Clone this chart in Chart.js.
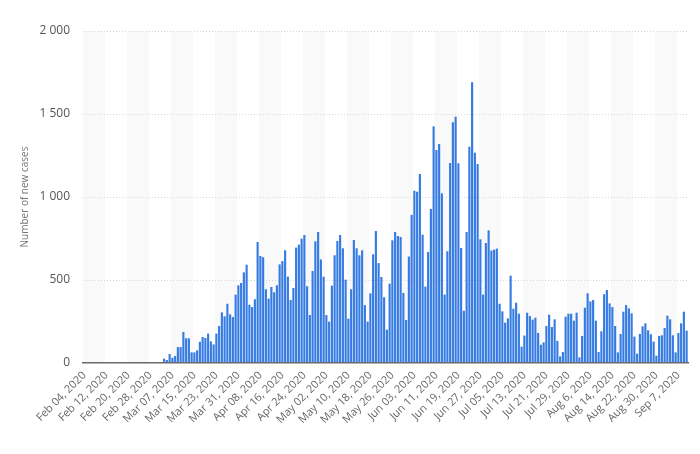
<!DOCTYPE html>
<html>
<head>
<meta charset="utf-8">
<script src="https://cdn.jsdelivr.net/npm/chart.js"></script>
<style>
    html, body { margin: 0; padding: 0; background: #fff; }
    #wrap { width: 700px; height: 454px; }
</style>
</head>
<body>
<div id="wrap"><canvas id="mainChart"></canvas></div>
<script>
// daily new cases, Feb 04 2020 .. Sep 10 2020 (one value per day)
const firstDay = new Date(2020, 1, 4);
const dayCount = 220;

const tickLabels = [
    'Feb 04, 2020', 'Feb 12, 2020', 'Feb 20, 2020', 'Feb 28, 2020',
    'Mar 07, 2020', 'Mar 15, 2020', 'Mar 23, 2020', 'Mar 31, 2020',
    'Apr 08, 2020', 'Apr 16, 2020', 'Apr 24, 2020', 'May 02, 2020',
    'May 10, 2020', 'May 18, 2020', 'May 26, 2020', 'Jun 03, 2020',
    'Jun 11, 2020', 'Jun 19, 2020', 'Jun 27, 2020', 'Jul 05, 2020',
    'Jul 13, 2020', 'Jul 21, 2020', 'Jul 29, 2020', 'Aug 6, 2020',
    'Aug 14, 2020', 'Aug 22, 2020', 'Aug 30, 2020', 'Sep 7, 2020'
];

const newCases = [
    // Feb 04 - Mar 02
    0, 0, 0, 0, 0, 0, 0, 0, 0, 0, 0, 0, 0, 0,
    0, 0, 0, 0, 0, 0, 0, 0, 0, 0, 0, 0, 0, 0,
    // from Mar 03
    6, 26, 18, 54, 32, 42, 96, 96, 187, 149, 149, 64, 64, 76, 128, 157, 151, 177,
    130, 112, 177, 223, 305, 281, 357, 293, 277, 412, 468, 482, 546, 592, 351, 337, 384, 729,
    645, 637, 444, 388, 458, 426, 468, 594, 614, 679, 520, 380, 452, 695, 713, 749, 771,
    462, 289, 554, 733, 789, 624, 520, 289, 249,
    466, 649, 735, 771, 691, 502, 267, 444, 741, 691, 649, 679, 349, 249, 420, 655, 795,
    602, 518, 396, 201, 478, 739, 789, 765, 759,
    422, 259, 641, 892, 1038, 1032, 1139, 773, 460, 669, 928, 1426, 1283, 1319, 1022,
    412, 673, 1205, 1450, 1484, 1203, 693, 315, 789, 1303,
    1691, 1267, 1199, 745, 412, 723, 799, 677, 683, 689, 357, 311, 243, 269, 526,
    327, 363, 297, 98, 165, 303, 283, 261, 273, 181,
    110, 124, 223, 291, 217, 263, 133, 40, 66, 279, 297, 297, 255, 303, 34,
    163, 333, 420, 371, 380, 255, 66, 191, 414, 440,
    359, 337, 223, 64, 175, 309, 349, 329, 299, 159, 56, 175, 221, 239, 197,
    173, 129, 44, 163, 167, 211, 285, 263, 167, 64, 181, 239, 309, 195
];

const monthNames = ['Jan', 'Feb', 'Mar', 'Apr', 'May', 'Jun', 'Jul', 'Aug', 'Sep', 'Oct', 'Nov', 'Dec'];
const categories = [];
for (let i = 0; i < dayCount; i++) {
    const d = new Date(firstDay.getFullYear(), firstDay.getMonth(), firstDay.getDate() + i);
    categories.push(monthNames[d.getMonth()] + ' ' + String(d.getDate()).padStart(2, '0') + ', ' + d.getFullYear());
}

// very light column bands, 8 days wide, every other tick interval
const stripes = {
    id: 'stripes',
    beforeDraw(chart) {
        const {ctx, chartArea, scales: {x}} = chart;
        const half = (x.getPixelForValue(1) - x.getPixelForValue(0)) / 2;
        ctx.save();
        ctx.fillStyle = '#f9f9f9';
        for (let i = 0; i < categories.length; i += 16) {
            const left = Math.max(x.getPixelForValue(i) - half, chartArea.left);
            const right = Math.min(x.getPixelForValue(i + 8) - half, chartArea.right);
            ctx.fillRect(left, chartArea.top, right - left, chartArea.bottom - chartArea.top);
        }
        ctx.restore();
    }
};

function spaced(v) {
    if (v < 1000) return String(v);
    return Math.floor(v / 1000) + ' ' + String(v % 1000).padStart(3, '0');
}

new Chart(document.getElementById('mainChart'), {
    type: 'bar',
    data: {
        labels: categories,
        datasets: [{
            label: 'Number of new cases',
            data: newCases,
            backgroundColor: '#357be2',
            borderWidth: 0,
            barPercentage: 0.78,
            categoryPercentage: 1
        }]
    },
    plugins: [stripes],
    options: {
        responsive: true,
        maintainAspectRatio: false,
        animation: false,
        layout: { padding: { top: 31, right: 12, bottom: 0, left: 15 } },
        plugins: {
            legend: { display: false },
            tooltip: { enabled: false }
        },
        scales: {
            x: {
                grid: { display: false, drawTicks: false },
                border: { display: true, color: '#6b6b6b', width: 1.5, z: 1 },
                ticks: {
                    autoSkip: false,
                    maxRotation: 45,
                    minRotation: 45,
                    padding: 6,
                    color: '#666',
                    font: { family: 'Open Sans', size: 11 },
                    callback: (val, i) => i % 8 === 0 ? tickLabels[i / 8] : null
                },
                afterFit: (scale) => { scale.height = 91; }
            },
            y: {
                min: 0,
                max: 2000,
                grid: {
                    drawTicks: false,
                    color: (c) => c.tick && c.tick.value === 0 ? 'rgba(0,0,0,0)' : '#d6d6d6'
                },
                border: { display: false, dash: [1, 2] },
                ticks: {
                    stepSize: 500,
                    padding: 13,
                    color: '#555',
                    font: { family: 'Open Sans', size: 12 },
                    callback: (v) => spaced(v)
                },
                title: {
                    display: true,
                    text: 'Number of new cases',
                    color: '#777',
                    font: { family: 'Open Sans', size: 10 },
                    padding: { top: 4, bottom: 4 }
                },
                afterFit: (scale) => { scale.width = 68; }
            }
        }
    }
});
</script>
</body>
</html>
